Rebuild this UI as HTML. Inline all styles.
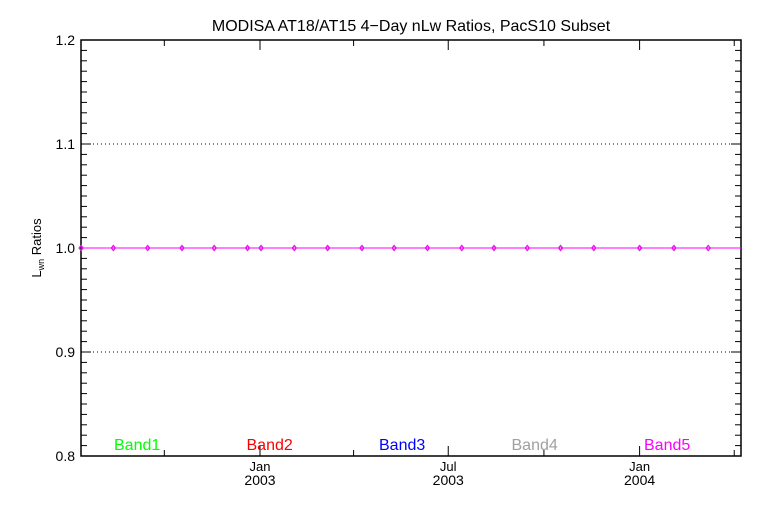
<!DOCTYPE html>
<html><head><meta charset="utf-8"><style>
html,body{margin:0;padding:0;background:#fff;}
svg{display:block;font-family:"Liberation Sans",sans-serif;}
</style></head><body>
<svg id="chart" width="768" height="512" viewBox="0 0 768 512" xmlns="http://www.w3.org/2000/svg">
<rect width="768" height="512" fill="#fff"/>
<text x="411" y="31" text-anchor="middle" font-size="16" fill="#000">MODISA AT18/AT15 4−Day nLw Ratios, PacS10 Subset</text>
<text transform="translate(41,248) rotate(-90)" text-anchor="middle" font-size="13" fill="#000">L<tspan font-size="9" dy="3">wn</tspan><tspan dy="-3"> Ratios</tspan></text>
<g id="grid"></g><g id="axes"></g><g id="series"></g><g id="legend"></g>
</svg>
<script>
// data: day offsets relative to 2003-01-01
const pointDays = [-172,-141,-108,-75,-44,-12,1,33,65,98,129,161,194,225,257,289,321,365,398,431];
const band1 = [1,1,1,1,1,1,1,1,1,1,1,1,1,1,1,1,1,1,1,1];
const band2 = [1,1,1,1,1,1,1,1,1,1,1,1,1,1,1,1,1,1,1,1];
const band3 = [1,1,1,1,1,1,1,1,1,1,1,1,1,1,1,1,1,1,1,1];
const band4 = [1,1,1,1,1,1,1,1,1,1,1,1,1,1,1,1,1,1,1,1];
const band5 = [1,1,1,1,1,1,1,1,1,1,1,1,1,1,1,1,1,1,1,1];
const yTicks = [0.8,0.9,1.0,1.1,1.2];
const yTickLabels = ["0.8","0.9","1.0","1.1","1.2"];
const xMajorDays = [0,181,365];
const xMajorLabels = [["Jan","2003"],["Jul","2003"],["Jan","2004"]];
const xMinorDays = [-92,90,273,456];
const bandNames = ["Band1","Band2","Band3","Band4","Band5"];
const bandColors = ["#00ff00","#ff0000","#0000ff","#a0a0a0","#ff00ff"];

const L=81,R=741,T=40,B=456;
const X0=260,PXD=1.04;
const xs=d=>X0+d*PXD;
const ys=v=>B-(v-0.8)/0.4*(B-T);
const NS="http://www.w3.org/2000/svg";
function mk(tag,attrs,parent){const e=document.createElementNS(NS,tag);for(const k in attrs)e.setAttribute(k,attrs[k]);parent.appendChild(e);return e;}
const grid=document.getElementById('grid'),axes=document.getElementById('axes'),series=document.getElementById('series'),legend=document.getElementById('legend');

[0.9,1.0,1.1].forEach(v=>{
  const g=mk('line',{x1:L,x2:R,y1:ys(v),y2:ys(v),stroke:'#000','stroke-width':1,'stroke-dasharray':'1,3'},grid);
  
  
});
const frame=mk('rect',{x:L,y:T,width:R-L,height:B-T,fill:'none',stroke:'#000','stroke-width':1.5},axes);


for(let i=0;i<=40;i++){
  const v=0.8+i*0.01,y=ys(v),len=(i%10===0)?10:6;
  mk('line',{x1:L,x2:L+len,y1:y,y2:y,stroke:'#000'},axes);
  mk('line',{x1:R,x2:R-len,y1:y,y2:y,stroke:'#000'},axes);
}
yTicks.forEach((v,i)=>{
  const t=mk('text',{x:L-6,y:ys(v)+5,'text-anchor':'end','font-size':14,fill:'#000'},axes);
  t.textContent=yTickLabels[i];
  
  
});
xMajorDays.forEach((d,i)=>{
  const x=xs(d);
  mk('line',{x1:x,x2:x,y1:B,y2:B-10,stroke:'#000'},axes);
  mk('line',{x1:x,x2:x,y1:T,y2:T+10,stroke:'#000'},axes);
  const t1=mk('text',{x:x,y:471,'text-anchor':'middle','font-size':13,fill:'#000'},axes);
  t1.textContent=xMajorLabels[i][0];
  
  
  const t2=mk('text',{x:x,y:485,'text-anchor':'middle','font-size':14,fill:'#000'},axes);
  t2.textContent=xMajorLabels[i][1];
  
  
});
xMinorDays.forEach(d=>{
  const x=xs(d);
  mk('line',{x1:x,x2:x,y1:B,y2:B-6,stroke:'#000'},axes);
  mk('line',{x1:x,x2:x,y1:T,y2:T+6,stroke:'#000'},axes);
});
[band1,band2,band3,band4,band5].forEach((vals,bi)=>{
  const c=bandColors[bi];
  const ln=mk('line',{x1:L,x2:R,y1:ys(vals[0]),y2:ys(vals[vals.length-1]),stroke:c,'stroke-width':1},series);
  
  
  const pts=pointDays.map((d,i)=>xs(d)+','+ys(vals[i])).join(' ');
  const pl=mk('polyline',{points:pts,fill:'none',stroke:c,'stroke-width':1},series);
  
  
  pointDays.forEach((d,i)=>{
    const x=xs(d),y=ys(vals[i]);
    const p=mk('polygon',{points:`${x},${y-2.5} ${x+2},${y} ${x},${y+2.5} ${x-2},${y}`,fill:'none',stroke:c,'stroke-width':1},series);
    
    
  });
});
bandNames.forEach((n,i)=>{
  const t=mk('text',{x:114+i*132.5,y:450,'font-size':16,fill:bandColors[i]},legend);
  t.textContent=n;
  
  
});
</script>
</body></html>
